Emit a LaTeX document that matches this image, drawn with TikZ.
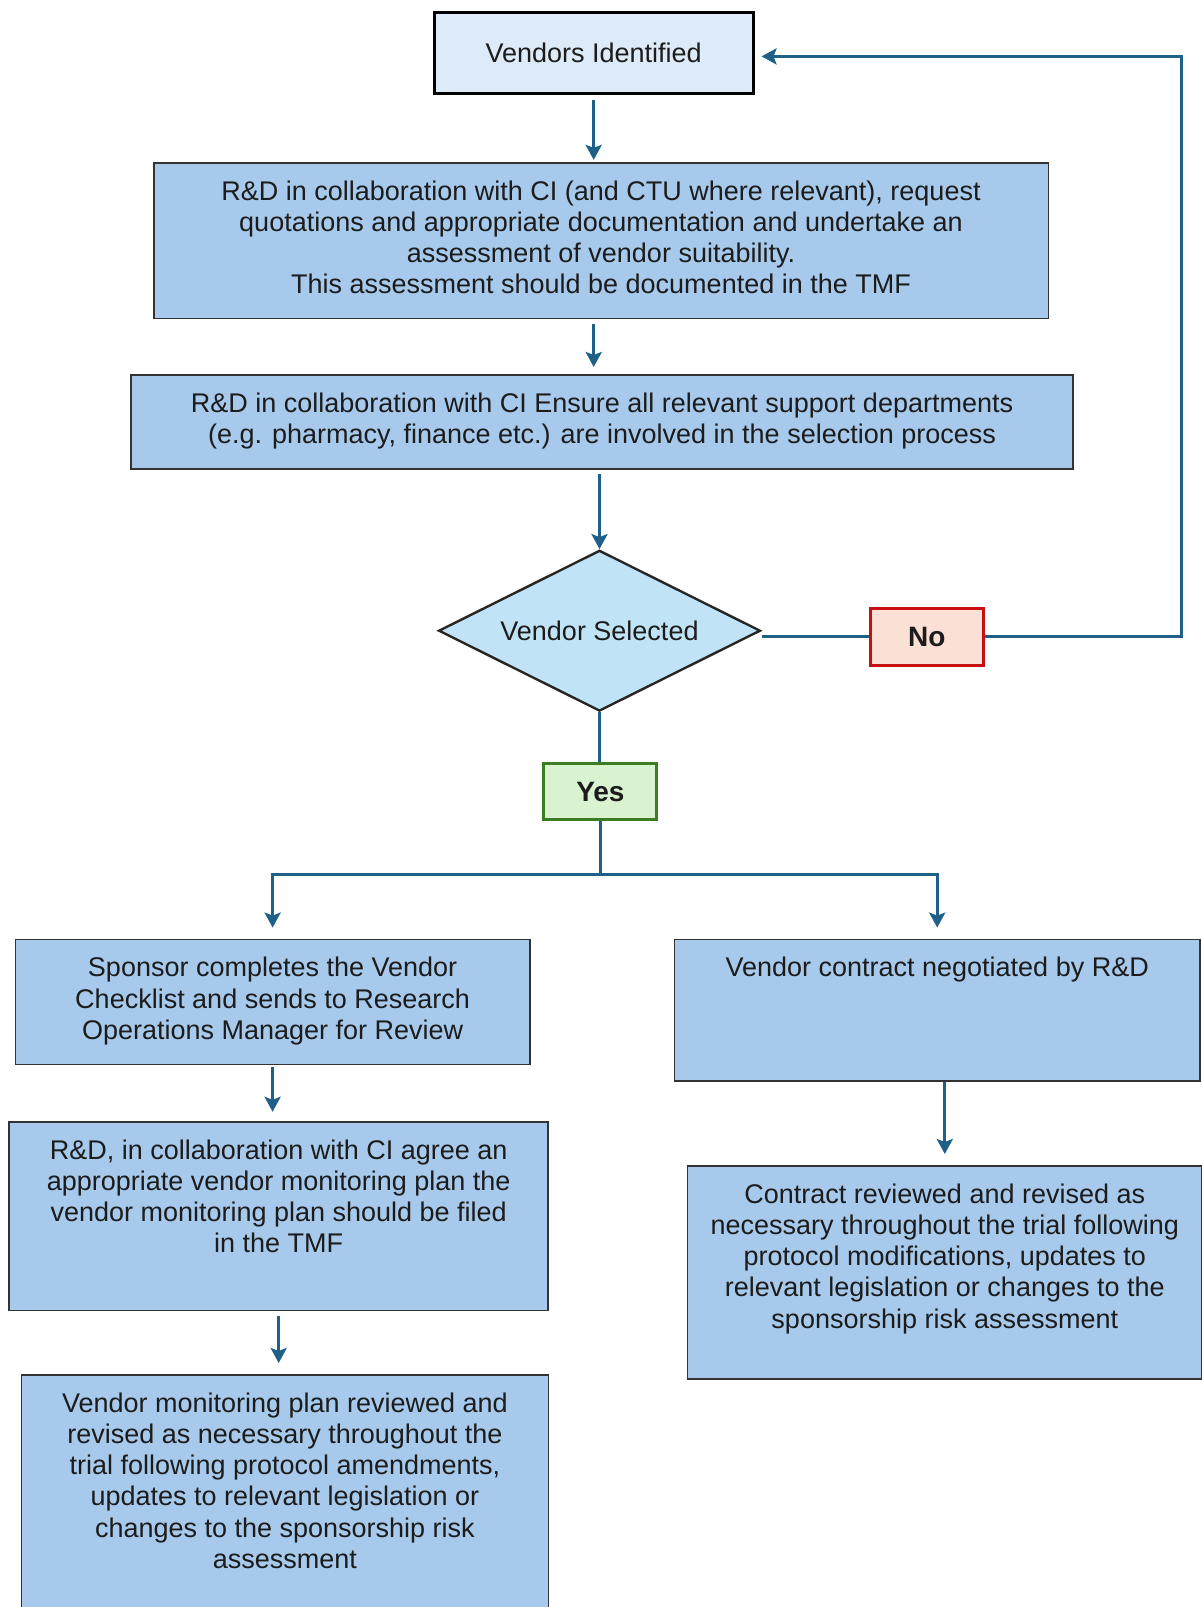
\documentclass[tikz,border=0pt]{standalone}
\usepackage{fontspec}
\setmainfont{Liberation Sans}
\usetikzlibrary{arrows.meta, positioning, calc, shapes.geometric}
\definecolor{boxblue}{RGB}{167, 202, 236}
\definecolor{paleblue}{RGB}{221, 234, 247}
\definecolor{diamblue}{RGB}{192, 228, 245}
\definecolor{flowblue}{RGB}{30, 96, 135}
\definecolor{noline}{RGB}{200, 16, 16}
\definecolor{nofill}{RGB}{251, 224, 213}
\definecolor{yesline}{RGB}{60, 125, 35}
\definecolor{yesfill}{RGB}{217, 242, 208}
\definecolor{inktext}{RGB}{28, 28, 28}

% text set at the top of a box of given width and height (pt)
\newcommand{\toptext}[3]{\parbox[c][#2pt][t]{#1pt}{\centering\vspace*{7.8pt}\strut #3}}

\begin{document}
\begin{tikzpicture}[x=0.5pt, y=-0.5pt,
    font=\fontsize{13.5}{15.6}\selectfont, text=inktext,
    stepbox/.style={draw=black!80, fill=boxblue, line width=0.8pt,
        inner sep=0pt, anchor=north},
    flow/.style={draw=flowblue, line width=1.5pt,
        -{Stealth[length=7.5pt, width=8pt, inset=1.5pt]}},
    link/.style={draw=flowblue, line width=1.5pt},
    answer/.style={line width=1.5pt, minimum width=56.5pt,
        minimum height=28.2pt, inner sep=0pt,
        font=\fontsize{14}{16}\selectfont\bfseries}]
    \clip (0,0) rectangle (1202,1607);

    % Start
    \node[draw=black, fill=paleblue, line width=1.5pt, minimum width=159.3pt,
        minimum height=40.5pt, inner sep=0pt, text depth=1pt] (vend) at (593.7, 52.7)
        {\raisebox{-1.5pt}{Vendors Identified}};

    % Assessment steps
    \node[stepbox] (quote) at (601, 161.9) {\toptext{447.3}{77.9}{%
        R\&D in collaboration with CI (and CTU where relevant), request\\
        quotations and appropriate documentation and undertake an\\
        assessment of vendor suitability.\\
        This assessment should be documented in the TMF}};
    \node[stepbox] (depts) at (602, 374) {\toptext{470.9}{47.2}{%
        R\&D in collaboration with CI Ensure all relevant support departments\\
        (e.g. pharmacy, finance etc.) are involved in the selection process}};

    % Decision
    \node[diamond, aspect=2, draw=black!85, fill=diamblue, line width=1.2pt,
        minimum width=160.9pt, minimum height=80.4pt, inner sep=0pt]
        (decide) at (599.5, 630.7) {Vendor Selected};
    \node[answer, draw=noline, fill=nofill] (no) at (926.9, 636.9) {No};
    \node[answer, draw=yesline, fill=yesfill] (yes) at (600.4, 791.6) {Yes};

    % Left branch
    \node[stepbox] (check) at (272.6, 938.6) {\toptext{257.2}{62.6}{%
        Sponsor completes the Vendor\\
        Checklist and sends to Research\\
        Operations Manager for Review}};
    \node[stepbox] (plan) at (278.7, 1121) {\toptext{269.5}{94.3}{%
        R\&D, in collaboration with CI agree an\\
        appropriate vendor monitoring plan the\\
        vendor monitoring plan should be filed\\
        in the TMF}};
    \node[stepbox] (planrev) at (284.9, 1374) {\toptext{263.4}{130}{%
        Vendor monitoring plan reviewed and\\
        revised as necessary throughout the\\
        trial following protocol amendments,\\
        updates to relevant legislation or\\
        changes to the sponsorship risk\\
        assessment}};

    % Right branch
    \node[stepbox] (contract) at (937.2, 938.6) {\toptext{262.9}{70.7}{%
        Vendor contract negotiated by R\&D}};
    \node[stepbox] (contrev) at (944.8, 1165) {\toptext{257.2}{106.7}{%
        Contract reviewed and revised as\\
        necessary throughout the trial following\\
        protocol modifications, updates to\\
        relevant legislation or changes to the\\
        sponsorship risk assessment}};

    % Connectors
    \coordinate (back) at (1181.5, 56.4);
    \coordinate (split) at (600.4, 874);
    \draw[flow, shorten <=2.5pt, shorten >=1pt] (vend.south) -- (vend.south |- quote.north);
    \draw[flow, shorten <=2.5pt, shorten >=3.5pt] (quote.south -| vend) -- (depts.north -| vend);
    \draw[flow, shorten <=2pt] (depts.south -| decide.north) -- (decide.north);
    \draw[link] (no.west -| decide.east) -- (no.west);
    \draw[flow, shorten >=3.5pt] (no.east) -| (back) -- (back -| vend.east);
    \draw[link] (decide.south) -- (decide.south |- yes.north);
    \draw[flow, shorten >=5.5pt] (yes.south) -- (split) -| (check.north);
    \draw[flow, shorten >=5.5pt] (split) -| (contract.north);
    \draw[flow, shorten <=1pt, shorten >=4.6pt] (check.south) -- (check.south |- plan.north);
    \draw[flow, shorten <=2.5pt, shorten >=5.5pt] (plan.south) -- (plan.south |- planrev.north);
    \draw[flow, shorten >=5.5pt] (contract.south -| contrev.north) -- (contrev.north);
\end{tikzpicture}
\end{document}
